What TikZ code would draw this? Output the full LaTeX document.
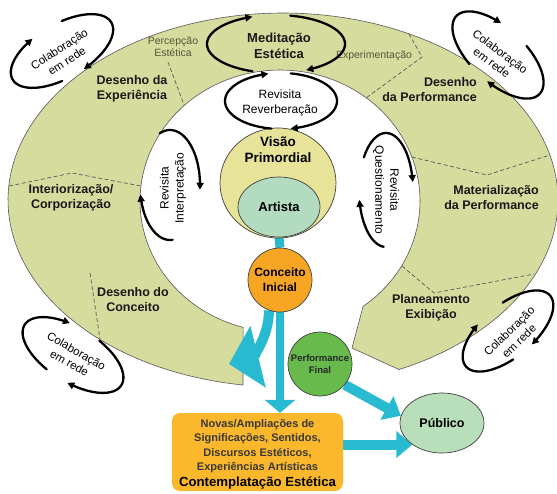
\documentclass[tikz,border=0pt]{standalone}
\usepackage{fontspec}
\setmainfont{Liberation Sans}
\usetikzlibrary{shapes.geometric,arrows.meta}
\definecolor{bandc}{RGB}{214,219,158}
\definecolor{visc}{RGB}{231,227,152}
\definecolor{artc}{RGB}{178,219,192}
\definecolor{cinit}{RGB}{246,166,35}
\definecolor{pfin}{RGB}{104,186,76}
\definecolor{pubc}{RGB}{184,222,186}
\definecolor{boxc}{RGB}{251,184,45}
\definecolor{cyanc}{RGB}{40,186,208}
\definecolor{thintext}{RGB}{85,88,60}
\pgfdeclarelayer{back}
\pgfdeclarelayer{mid}
\pgfsetlayers{back,mid,main}
\newcommand{\drawloop}[9]{%
  \begin{scope}[shift={(#1,#2)},rotate=#3]
    \draw[looparrow] plot[domain=#6:#7,samples=40] ({#4*cos(\x)},{#5*sin(\x)});
    \draw[looparrow] plot[domain=#8:#9,samples=40] ({#4*cos(\x)},{#5*sin(\x)});
  \end{scope}}
\begin{document}
\begin{tikzpicture}[x=1pt,y=-1pt,
  bandlbl/.style={font=\bfseries\fontsize{12.5}{15}\selectfont,align=center,text=black!90,inner sep=0},
  thinlbl/.style={font=\fontsize{10.5}{11.5}\selectfont,align=center,text=thintext,inner sep=0},
  colab/.style={font=\fontsize{11.5}{14}\selectfont,align=center,inner sep=0},
  revlbl/.style={font=\fontsize{12}{15}\selectfont,align=center,inner sep=0},
  sepline/.style={draw=black!65,line width=0.7pt,dash pattern=on 4pt off 2.5pt},
  looparrow/.style={line width=2.3pt,line cap=round,-{Triangle[length=7pt,width=7pt]}},
  cyanline/.style={draw=cyanc,line width=#1},
  outline/.style={draw=black!75,line width=0.7pt},
]
\useasboundingbox (0,0) rectangle (557,493);
\begin{pgfonlayer}{back}
\fill[white] (0,0) rectangle (557,493);
% band
\filldraw[fill=bandc, draw=black!65, line width=0.6pt]
  plot[domain=98.36:425.05,samples=160] ({283+275*cos(\x)},{200+187*sin(\x)})
  -- (352,348)
  -- plot[domain=105.3:413.6,samples=120] ({280+140*cos(518.9-\x)},{201+131*sin(518.9-\x)})
  -- cycle;
% separators
\draw[sepline] (168,62) -- (184,105);
\draw[sepline] (9,186) -- (72,173) -- (141,186);
\draw[sepline] (90,273) -- (100,339);
\draw[sepline] (409,34) -- (422,57) -- (366,98);
\draw[sepline] (412,157) -- (487,175) -- (550,155);
\draw[sepline] (402,266) -- (434,293) -- (534,274);
\end{pgfonlayer}

% band labels
\node[bandlbl] (dexp) at (132,89) {Desenho da\\Experiência};
\node[thinlbl] (perc) at (173,47) {Percepção\\Estética};
\node[bandlbl,font=\bfseries\fontsize{13}{16}\selectfont] (med) at (279,46) {Meditação\\Estética};
\node[thinlbl] (expm) at (374,56) {Experimentação};
\node[bandlbl,align=right,anchor=east] (dperf) at (477,90) {Desenho\\da Performance};
\node[bandlbl,align=right,anchor=east] (mat) at (539,198) {Materialização\\da Performance};
\node[bandlbl] (inter) at (71,198) {Interiorização/\\Corporização};
\node[bandlbl] (dcon) at (133,300) {Desenho do\\Conceito};
\node[bandlbl] (plan) at (431,308) {Planeamento\\Exibição};

% central nodes
\node[ellipse,outline,fill=visc,minimum width=116,minimum height=110,inner sep=0] (vis) at (278,183) {};
\node[font=\bfseries\fontsize{13.5}{16}\selectfont,align=center,inner sep=0] (vislbl) at (278,150) {Visão\\Primordial};
\node[ellipse,outline,fill=artc,minimum width=82,minimum height=60,inner sep=0,font=\bfseries\fontsize{13}{15}\selectfont] (art) at (279,207) {Artista};
\node[circle,outline,fill=cinit,minimum size=64,inner sep=0,font=\bfseries\fontsize{12}{15}\selectfont,align=center] (ci) at (280,280) {Conceito\\Inicial};
\node[circle,outline,fill=pfin,minimum size=64,inner sep=0,font=\bfseries\fontsize{9.5}{12}\selectfont,align=center,text=black!85] (pf) at (320,364) {Performance\\Final};
\node[ellipse,outline,fill=pubc,minimum width=84,minimum height=60,inner sep=0,font=\bfseries\fontsize{12.5}{15}\selectfont] (pub) at (442,423) {Público};
\node[fill=boxc,rounded corners=8pt,minimum width=171,minimum height=78,inner sep=0] (box) at (257.5,452) {};
\node[font=\bfseries\fontsize{11}{14.5}\selectfont,align=center,text=black!78,inner sep=0] (boxtxt) at (257.5,454)
  {Novas/Ampliações de\\Significações, Sentidos,\\Discursos Estéticos,\\Experiências Artísticas\\[1pt]{\color{black}\fontsize{13.2}{15}\selectfont Contemplatação Estética}};

% cyan connectors
\begin{pgfonlayer}{mid}
\coordinate (bandtip) at (229,364);
\draw[cyanline=9] (art.south) -- (ci.north);
\draw[cyanline=8,-{Triangle[length=13pt,width=30pt]}] (ci.south) -- (ci.south |- box.north);
\draw[cyanline=10,-{Triangle[length=30pt,width=62pt]}] (ci.250) .. controls +(0,30) and +(20,-5) .. (bandtip);
\draw[cyanline=10,-{Triangle[length=16pt,width=26pt]}] (pf.-40) -- (pub.170);
\draw[cyanline=10,-{Triangle[length=16pt,width=26pt]}] (box.east |- pub.216) -- (pub.216);
\end{pgfonlayer}

% revisita labels
\node[revlbl] (rrev) at (280,102.5) {Revisita\\Reverberação};
\node[revlbl,rotate=90] (rint) at (173,188) {Revisita\\Interpretação};
\node[revlbl,rotate=-90] (rque) at (386,190) {Revisita\\Questionamento};

% colaboracao labels
\node[colab,rotate=33] (c1) at (63,55) {Colaboração\\em rede};
\node[colab,rotate=-37] (c2) at (496,57) {Colaboração\\em rede};
\node[colab,rotate=-30] (c3) at (73,357) {Colaboração\\em rede};
\node[colab,rotate=44] (c4) at (514,336) {Colaboração\\em rede};

% loops
\drawloop{276}{44}{0}{69}{29}{110}{250}{282}{424}
\drawloop{281}{101}{0}{56}{28}{100}{257}{280}{440}
\drawloop{170}{185}{0}{30}{55}{250}{365}{85}{170}
\drawloop{386}{190}{0}{27}{57}{215}{352}{95}{170}
\drawloop{62}{51}{30}{57}{27}{105}{250}{285}{440}
\drawloop{498}{55}{-43}{57}{27}{105}{250}{285}{440}
\drawloop{73}{355}{-32}{57}{27}{105}{250}{285}{440}
\drawloop{508}{331}{40}{55}{26}{105}{250}{285}{440}
\end{tikzpicture}
\end{document}
